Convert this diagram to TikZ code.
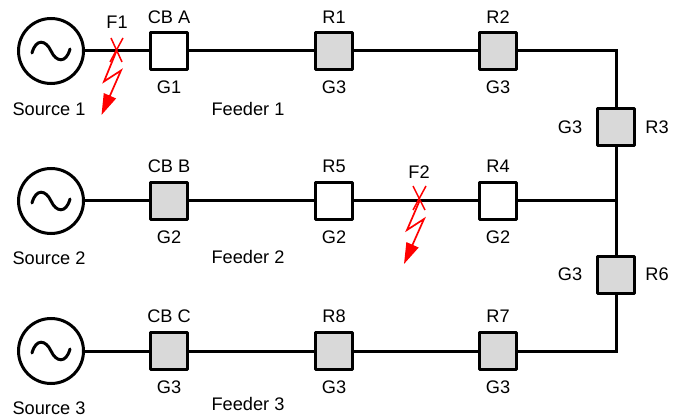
\documentclass[tikz,border=0pt]{standalone}
\usepackage{fontspec}
\setmainfont{Liberation Sans}
\usetikzlibrary{arrows.meta}
\definecolor{boxgray}{RGB}{217,217,217}
\tikzset{
  x=1pt,y=-1pt,
  wire/.style={line width=3pt},
  src/.style={circle,draw,line width=3pt,minimum size=65pt,inner sep=0pt,fill=white},
  brk/.style={rectangle,draw,line width=3pt,minimum size=37pt,inner sep=0pt,line join=round},
  open/.style={brk,fill=white},
  shut/.style={brk,fill=boxgray},
  lbl/.style={inner sep=0pt,font=\fontsize{18.2}{20}\selectfont},
  fault/.style={draw=red,line width=1.5pt},
  bolt/.style={draw=red,line width=1.7pt,line join=miter,-{Triangle[length=21pt,width=13pt]}}
}
\newcommand{\wave}[2]{\draw[line width=3pt,line cap=round] (#1-19,#2+2) .. controls (#1-15,#2-13) and (#1-5,#2-11) .. (#1,#2) .. controls (#1+5,#2+11) and (#1+15,#2+13) .. (#1+19,#2-2);}
\begin{document}
\begin{tikzpicture}
\useasboundingbox (0,0) rectangle (678,417);
% sources
\node[src] (s1) at (51,51) {};
\node[src] (s2) at (51,201) {};
\node[src] (s3) at (51,351) {};
\wave{51}{51}\wave{51}{201}\wave{51}{351}
% breakers
\node[open] (cba) at (169,51) {};
\node[shut] (r1) at (334,51) {};
\node[shut] (r2) at (498,51) {};
\node[shut] (r3) at (616,127) {};
\node[shut] (cbb) at (169,201) {};
\node[open] (r5) at (334,201) {};
\node[open] (r4) at (498,201) {};
\node[shut] (r6) at (616,275) {};
\node[shut] (cbc) at (169,351) {};
\node[shut] (r8) at (334,351) {};
\node[shut] (r7) at (498,351) {};
\coordinate (tr) at (616,51);
\coordinate (j) at (616,201);
\coordinate (br) at (616,351);
\coordinate (x1) at (116.5,51);
\coordinate (x2) at (419.5,201);
% wires
\draw[wire] (s1) -- (cba);
\draw[wire] (cba) -- (r1);
\draw[wire] (r1) -- (r2);
\draw[wire,line join=miter] (r2) -- (tr) -- (r3);
\draw[wire] (r3) -- (j);
\draw[wire] (j) -- (r6);
\draw[wire] (s2) -- (cbb);
\draw[wire] (cbb) -- (r5);
\draw[wire] (r5) -- (r4);
\draw[wire] (r4) -- (j);
\draw[wire,line join=miter] (r6) -- (br) -- (r7);
\draw[wire] (r7) -- (r8);
\draw[wire] (r8) -- (cbc);
\draw[wire] (cbc) -- (s3);
% faults
\draw[fault] (111,38) -- (122,62);
\draw[fault] (123,38) -- (110,62);
\draw[bolt] (x1) -- (104,81.5) -- (121,70.5) -- (101.5,115);
\draw[fault] (413,186) -- (425,210);
\draw[fault] (426,186) -- (413,210);
\draw[bolt] (x2) -- (407,230) -- (424,219) -- (404,264);
% labels
\node[lbl] (t1) at (49,109) {Source 1};
\node[lbl] (t2) at (49,258) {Source 2};
\node[lbl] (t3) at (49,408) {Source 3};
\node[lbl] (f1) at (117,22) {F1};
\node[lbl] (f2) at (419,172) {F2};
\node[lbl] (a1) at (169,17) {CB A};
\node[lbl] (a2) at (334,17) {R1};
\node[lbl] (a3) at (498,17) {R2};
\node[lbl] (b1) at (169,166) {CB B};
\node[lbl] (b2) at (334,166) {R5};
\node[lbl] (b3) at (498,166) {R4};
\node[lbl] (c1) at (169,316) {CB C};
\node[lbl] (c2) at (334,316) {R8};
\node[lbl] (c3) at (498,316) {R7};
\node[lbl] (g1) at (169,87) {G1};
\node[lbl] (g2) at (334,87) {G3};
\node[lbl] (g3) at (498,87) {G3};
\node[lbl] (g4) at (169,237) {G2};
\node[lbl] (g5) at (334,237) {G2};
\node[lbl] (g6) at (498,237) {G2};
\node[lbl] (g7) at (169,387) {G3};
\node[lbl] (g8) at (334,387) {G3};
\node[lbl] (g9) at (498,387) {G3};
\node[lbl] (l3) at (570,127) {G3};
\node[lbl] (r3t) at (657,127) {R3};
\node[lbl] (l6) at (570,274) {G3};
\node[lbl] (r6t) at (657,274) {R6};
\node[lbl] (fd1) at (248,109) {Feeder 1};
\node[lbl] (fd2) at (248,257) {Feeder 2};
\node[lbl] (fd3) at (248,404) {Feeder 3};
\end{tikzpicture}
\end{document}
